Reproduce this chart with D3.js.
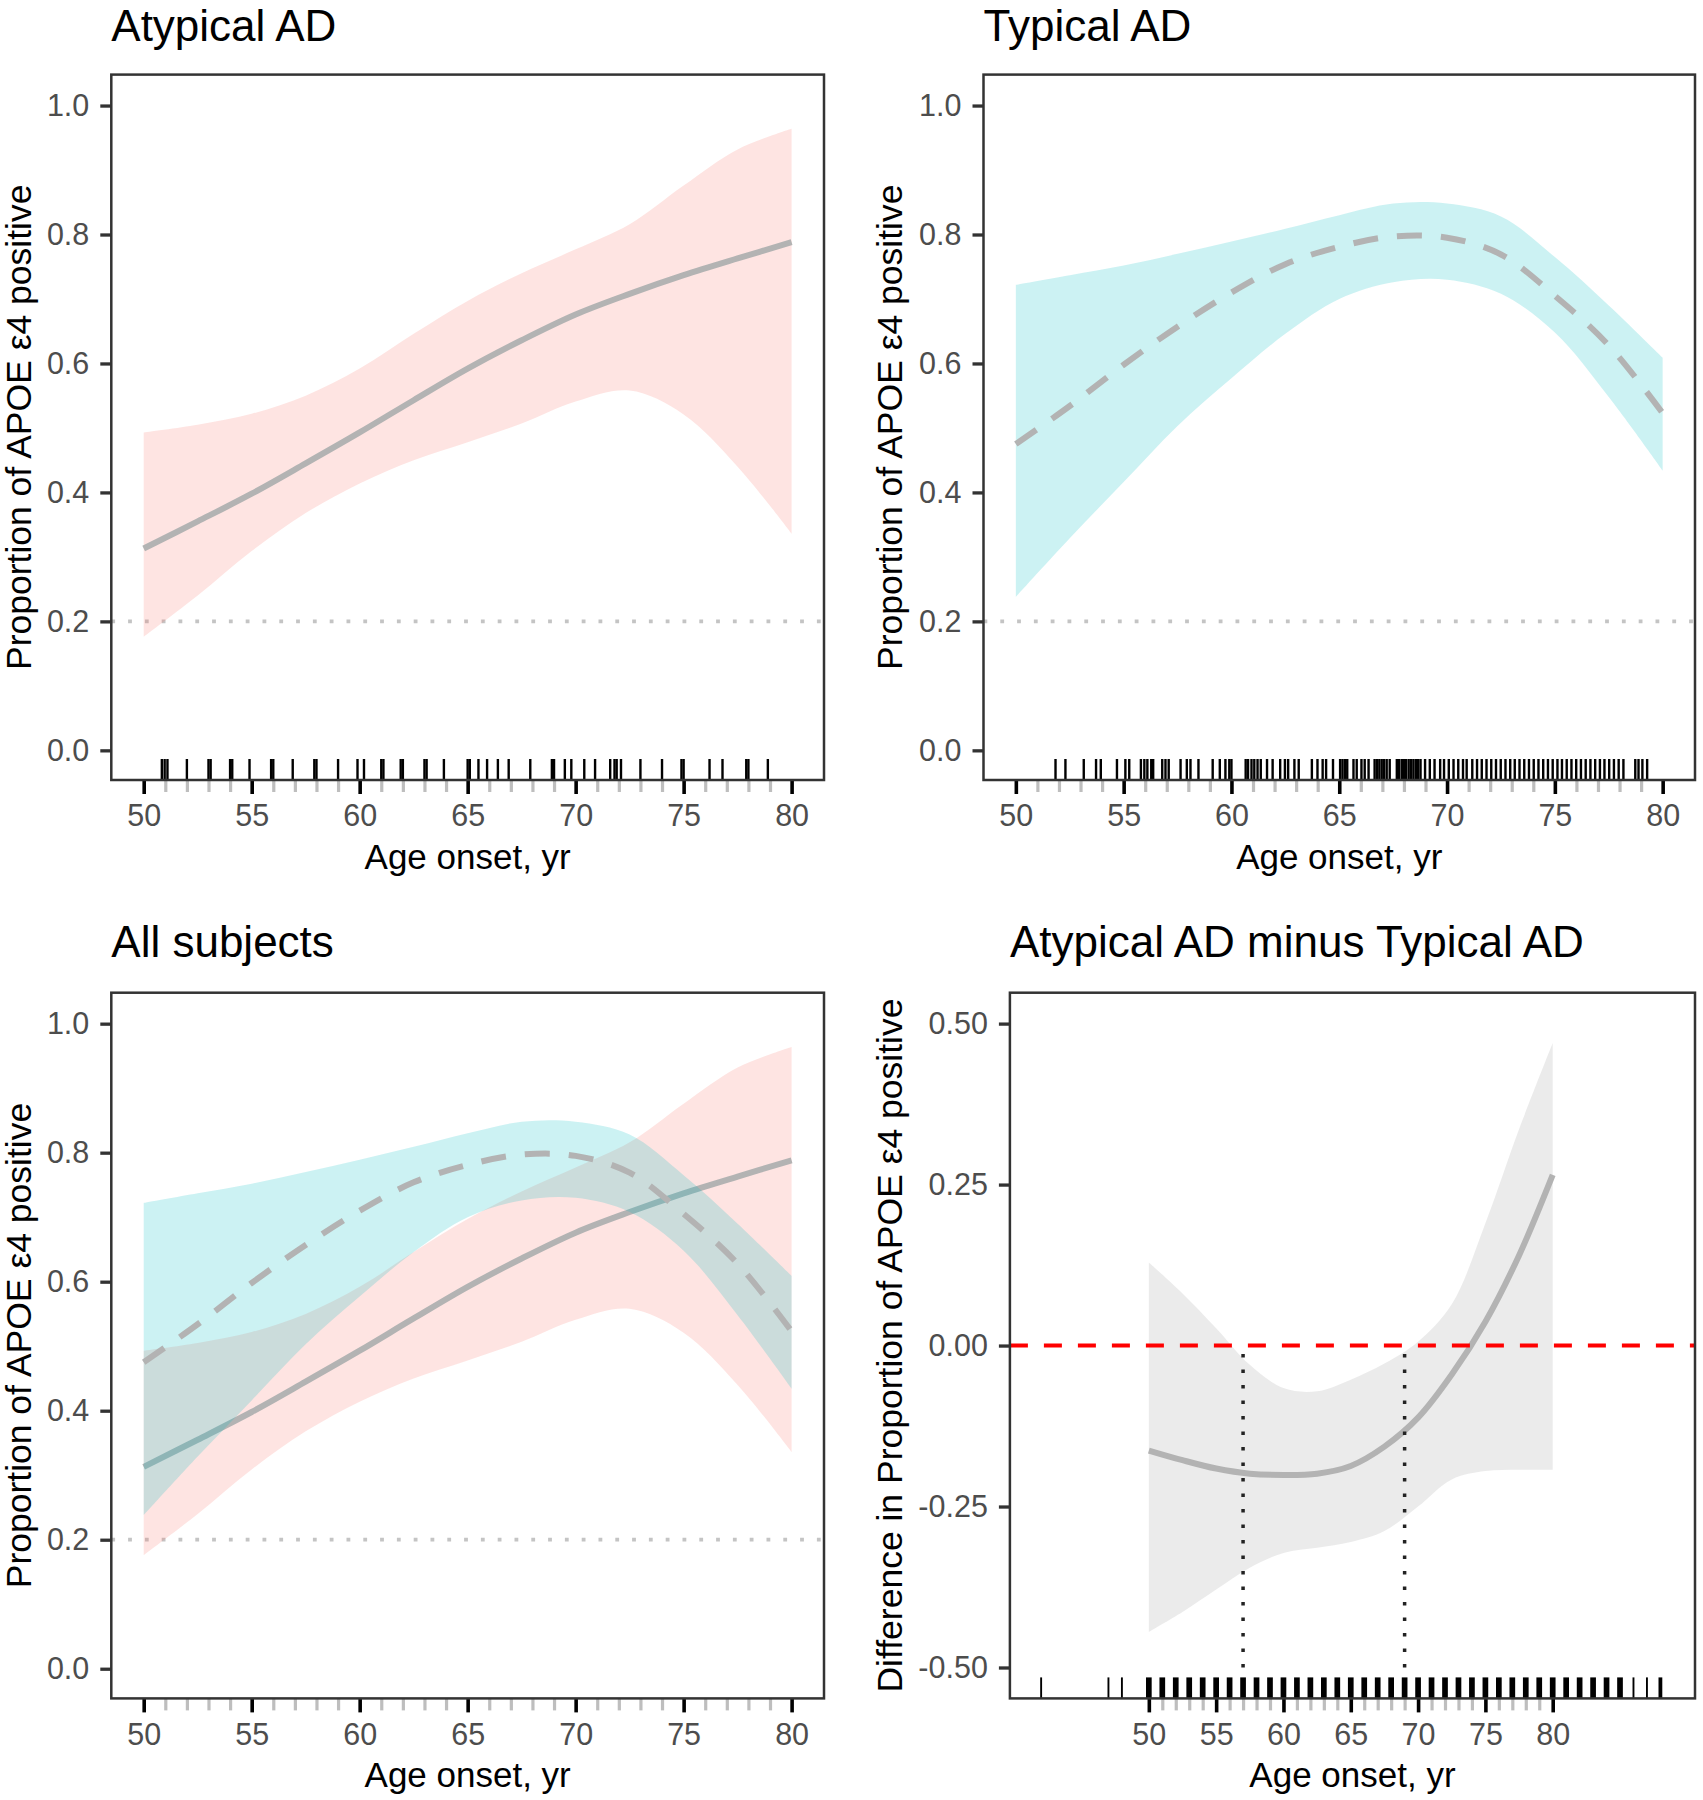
<!DOCTYPE html>
<html><head><meta charset="utf-8">
<script src="https://cdn.jsdelivr.net/npm/d3@7"></script>
<style>
body{margin:0;background:#fff}
svg{display:block}
text{font-family:"Liberation Sans",Arial,Helvetica,sans-serif}
</style>
</head><body>
<svg id="chart" width="1703" height="1800"></svg>
<script>
// ---------- data ----------
const ages = [50, 52.5, 55, 57.5, 60, 62.5, 65, 67.5, 70, 72.5, 75, 77.5, 80];

const atypFit = [0.313, 0.355, 0.398, 0.445, 0.493, 0.543, 0.592, 0.636, 0.676, 0.708, 0.737, 0.763, 0.788];
const atypHi  = [0.493, 0.505, 0.522, 0.550, 0.592, 0.646, 0.697, 0.740, 0.777, 0.816, 0.876, 0.932, 0.964];
const atypLo  = [0.176, 0.240, 0.309, 0.368, 0.414, 0.450, 0.478, 0.507, 0.541, 0.558, 0.521, 0.440, 0.336];

const typFit = [0.475, 0.534, 0.598, 0.657, 0.710, 0.754, 0.781, 0.797, 0.795, 0.769, 0.705, 0.628, 0.523];
const typHi  = [0.722, 0.737, 0.752, 0.770, 0.789, 0.809, 0.830, 0.848, 0.848, 0.828, 0.765, 0.690, 0.609];
const typLo  = [0.238, 0.329, 0.416, 0.503, 0.577, 0.646, 0.700, 0.726, 0.730, 0.708, 0.648, 0.548, 0.434];

const diffFit = [-0.163, -0.178, -0.191, -0.199, -0.201, -0.199, -0.187, -0.157, -0.112, -0.045, 0.037, 0.140, 0.265];
const diffHi  = [0.129, 0.081, 0.027, -0.030, -0.066, -0.071, -0.053, -0.028, 0.006, 0.064, 0.190, 0.336, 0.470];
const diffLo  = [-0.445, -0.414, -0.379, -0.345, -0.322, -0.314, -0.305, -0.288, -0.250, -0.208, -0.195, -0.193, -0.193];

const crossAges = [57, 69];       // vertical dotted markers in difference panel
const refLevel = 0.2;             // dotted reference line in proportion panels
const diffRef = 0;                // red dashed reference line

const atypRug = [50.84, 50.97, 51.1, 52.0, 53.0, 53.1, 54.0, 54.1, 54.9, 55.9, 56.0, 56.9, 57.9, 58.0, 59.0,
  59.9, 60.2, 61.0, 61.1, 61.9, 62.0, 63.0, 63.1, 63.9, 65.0, 65.1, 65.5, 65.9, 66.4, 66.9, 67.9, 68.9, 69.0,
  69.5, 69.8, 70.4, 70.9, 71.6, 71.8, 71.9, 72.1, 73.0, 74.0, 74.9, 75.0, 76.2, 76.8, 77.9, 78.0, 78.9];

const typRug = [51.84, 52.3, 53.15, 53.72, 53.94, 54.69, 55.08, 55.26, 55.8, 55.96, 56.1, 56.28, 56.37, 56.79,
  56.94, 57.09, 57.64, 57.93, 58.1, 58.47, 59.13, 59.46, 59.72, 59.9, 60.0, 60.66, 60.77, 60.93, 61.06, 61.21,
  61.36, 61.65, 61.91, 62.26, 62.48, 62.63, 62.92, 63.12, 63.73, 63.99, 64.23, 64.39, 64.71, 65.04, 65.15,
  65.26, 65.37, 65.66, 65.81, 66.03, 66.18, 66.36, 66.64, 66.75, 66.86, 66.97, 67.08, 67.2, 67.34, 67.67,
  67.78, 67.9, 68.0, 68.1, 68.22, 68.33, 68.44, 68.55, 68.66, 68.77, 68.98, 69.2, 69.42, 69.68, 69.86, 70.08,
  70.3, 70.52, 70.74, 70.91, 71.17, 71.39, 71.61, 71.83, 72.05, 72.27, 72.49, 72.71, 72.93, 73.14, 73.36,
  73.58, 73.8, 74.02, 74.24, 74.46, 74.68, 74.9, 75.12, 75.33, 75.55, 75.77, 75.99, 76.21, 76.43, 76.65,
  76.87, 77.09, 77.3, 77.52, 77.74, 77.96, 78.18, 78.73, 78.88, 79.06, 79.28];

const diffRugAges = [42, 47, 48, 50, 51, 52, 53, 54, 55, 56, 57, 58, 59, 60, 61, 62, 63, 64, 65, 66, 67, 68, 69,
  70, 71, 72, 73, 74, 75, 76, 77, 78, 79, 80, 81, 82, 83, 84, 85, 86, 87, 88];
const diffRugCounts = [1, 1, 1, 3, 3, 3, 3, 3, 3, 3, 3, 3, 3, 3, 3, 3, 3, 3, 3, 3, 3, 3, 3,
  3, 3, 3, 3, 3, 3, 3, 3, 3, 3, 3, 3, 3, 3, 3, 3, 1, 1, 2];

const xMajor = [50, 55, 60, 65, 70, 75, 80];
const xMajorLabels = ["50", "55", "60", "65", "70", "75", "80"];
const xMinor = [51, 52, 53, 54, 56, 57, 58, 59, 61, 62, 63, 64, 66, 67, 68, 69, 71, 72, 73, 74, 76, 77, 78, 79];
const propTicks = [0, 0.2, 0.4, 0.6, 0.8, 1.0];
const propLabels = ["0.0", "0.2", "0.4", "0.6", "0.8", "1.0"];
const diffTicks = [-0.5, -0.25, 0, 0.25, 0.5];
const diffLabels = ["-0.50", "-0.25", "0.00", "0.25", "0.50"];

const titles = ["Atypical AD", "Typical AD", "All subjects", "Atypical AD minus Typical AD"];
const xTitle = "Age onset, yr";
const propTitle = "Proportion of APOE \u03b54 positive";
const diffTitle = "Difference in Proportion of APOE \u03b54 positive";

// ---------- styling ----------
const PINK = "#F8766D", CYAN = "#00BFC4", LINE = "#B3B3B3";
const svg = d3.select("#chart");

const panels = [
  {left: 111.3, right: 824, top: 74.6, bottom: 780, xd: [48.5, 81.5], yd: [-0.046, 1.048]},
  {left: 983.5, right: 1695, top: 74.6, bottom: 780, xd: [48.5, 81.5], yd: [-0.046, 1.048]},
  {left: 111.3, right: 824, top: 992.7, bottom: 1698.4, xd: [48.5, 81.5], yd: [-0.046, 1.048]},
  {left: 1009.9, right: 1695, top: 992.7, bottom: 1698.4, xd: [39.68, 90.57], yd: [-0.548, 0.548]}
];
panels.forEach(p => {
  p.x = d3.scaleLinear().domain(p.xd).range([p.left, p.right]);
  p.y = d3.scaleLinear().domain(p.yd).range([p.bottom, p.top]);
});

function rows(lo, hi, fit) { return ages.map((a, i) => ({a, lo: lo[i], hi: hi[i], fit: fit[i]})); }
const curve = d3.curveCatmullRom.alpha(0.5);

function band(g, p, data, fill, op) {
  g.append("path").datum(data)
    .attr("d", d3.area().x(d => p.x(d.a)).y0(d => p.y(d.lo)).y1(d => p.y(d.hi)).curve(curve))
    .attr("fill", fill).attr("fill-opacity", op).attr("stroke", "none");
}
function fitLine(g, p, data, dash) {
  g.append("path").datum(data)
    .attr("d", d3.line().x(d => p.x(d.a)).y(d => p.y(d.fit)).curve(curve))
    .attr("fill", "none").attr("stroke", LINE).attr("stroke-width", 6)
    .attr("stroke-dasharray", dash || null);
}
function hRef(g, p, v) {
  g.append("line").attr("x1", p.left).attr("x2", p.right).attr("y1", p.y(v)).attr("y2", p.y(v))
    .attr("stroke", "#C4C4C4").attr("stroke-width", 3.8).attr("stroke-dasharray", "3.8,13");
}
function rug(g, p, vals, counts) {
  g.selectAll(null).data(vals).join("line")
    .attr("x1", d => p.x(d)).attr("x2", d => p.x(d))
    .attr("y1", p.bottom).attr("y2", p.bottom - 21)
    .attr("stroke", "#000")
    .attr("stroke-width", (d, i) => counts ? 1.9 * counts[i] : 2.4);
}
function axes(p, yT, yL, title, yTitle, titleY, yTitleX) {
  const g = svg.append("g");
  const gm = g.append("g").attr("transform", `translate(0,${p.bottom})`)
    .call(d3.axisBottom(p.x).tickValues(xMinor).tickSize(12).tickFormat(""));
  gm.select(".domain").remove();
  gm.selectAll("line").attr("stroke", "#BEBEBE").attr("stroke-width", 3.2);
  const gx = g.append("g").attr("transform", `translate(0,${p.bottom})`)
    .call(d3.axisBottom(p.x).tickValues(xMajor).tickSize(14).tickPadding(10.5)
      .tickFormat((d, i) => xMajorLabels[i]));
  gx.select(".domain").remove();
  gx.selectAll("line").attr("stroke", "#000").attr("stroke-width", 3.6);
  gx.selectAll("text").attr("font-size", 30.5).attr("fill", "#4D4D4D");
  const gy = g.append("g").attr("transform", `translate(${p.left},0)`)
    .call(d3.axisLeft(p.y).tickValues(yT).tickSize(11).tickPadding(11)
      .tickFormat((d, i) => yL[i]));
  gy.select(".domain").remove();
  gy.selectAll("line").attr("stroke", "#333").attr("stroke-width", 3.3);
  gy.selectAll("text").attr("font-size", 30.5).attr("fill", "#4D4D4D");
  g.append("rect").attr("x", p.left).attr("y", p.top)
    .attr("width", p.right - p.left).attr("height", p.bottom - p.top)
    .attr("fill", "none").attr("stroke", "#333").attr("stroke-width", 2.5);
  g.append("text").attr("x", p.left).attr("y", titleY).attr("font-size", 44).attr("fill", "#000").text(title);
  g.append("text").attr("x", (p.left + p.right) / 2).attr("y", p.bottom + 89)
    .attr("text-anchor", "middle").attr("font-size", 35).attr("fill", "#000").text(xTitle);
  g.append("text").attr("transform", `translate(${yTitleX},${(p.top + p.bottom) / 2}) rotate(-90)`)
    .attr("text-anchor", "middle").attr("font-size", 35.5).attr("fill", "#000").text(yTitle);
}

const atyp = rows(atypLo, atypHi, atypFit);
const typ = rows(typLo, typHi, typFit);
const diff = rows(diffLo, diffHi, diffFit);

{
  const p = panels[0], g = svg.append("g");
  hRef(g, p, refLevel);
  band(g, p, atyp, PINK, 0.2);
  fitLine(g, p, atyp);
  rug(g, p, atypRug);
  axes(p, propTicks, propLabels, titles[0], propTitle, 41, 31);
}
{
  const p = panels[1], g = svg.append("g");
  hRef(g, p, refLevel);
  band(g, p, typ, CYAN, 0.2);
  fitLine(g, p, typ, "25,19");
  rug(g, p, typRug);
  axes(p, propTicks, propLabels, titles[1], propTitle, 41, 902);
}
{
  const p = panels[2], g = svg.append("g");
  hRef(g, p, refLevel);
  band(g, p, atyp, PINK, 0.2);
  fitLine(g, p, atyp);
  band(g, p, typ, CYAN, 0.2);
  fitLine(g, p, typ, "25,19");
  axes(p, propTicks, propLabels, titles[2], propTitle, 957, 31);
}
{
  const p = panels[3], g = svg.append("g");
  band(g, p, diff, "#999999", 0.2);
  fitLine(g, p, diff);
  g.selectAll(null).data(crossAges).join("line")
    .attr("x1", d => p.x(d)).attr("x2", d => p.x(d))
    .attr("y1", p.y(-0.5)).attr("y2", p.y(diffRef))
    .attr("stroke", "#222").attr("stroke-width", 3.5).attr("stroke-dasharray", "3.5,12");
  g.append("line").attr("x1", p.left).attr("x2", p.right).attr("y1", p.y(diffRef)).attr("y2", p.y(diffRef))
    .attr("stroke", "#FF0000").attr("stroke-width", 4).attr("stroke-dasharray", "18,16");
  rug(g, p, diffRugAges, diffRugCounts);
  axes(p, diffTicks, diffLabels, titles[3], diffTitle, 957, 902);
}
</script>
</body></html>
